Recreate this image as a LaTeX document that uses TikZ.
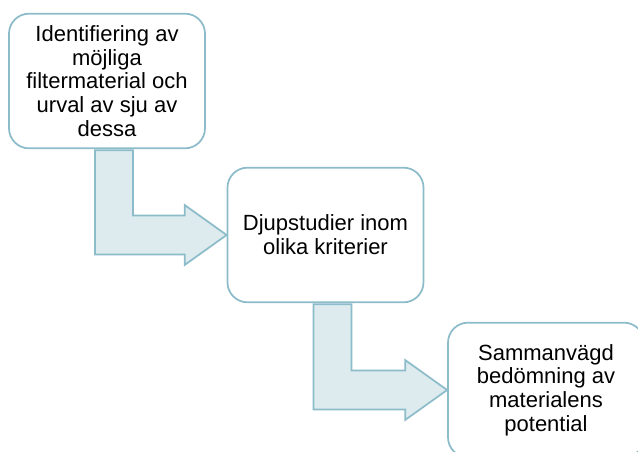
\documentclass[tikz,border=0pt]{standalone}
\usepackage{fontspec}
\setmainfont{Liberation Sans}
\usetikzlibrary{calc}

\definecolor{stepline}{RGB}{140,188,201}
\definecolor{stepfill}{RGB}{221,235,239}

\tikzset{
  stepbox/.style={draw=stepline, line width=1.3pt, fill=white, rounded corners=15pt,
    minimum width=147pt, minimum height=101pt, align=center,
    font=\fontsize{16.5}{17.8}\selectfont},
  flowarrow/.style={draw=stepline, line width=1.3pt, fill=stepfill, line join=miter}
}

% bent block arrow from the bottom of one box to the left side of the next
\newcommand{\bentarrow}[2]{%
  \draw[flowarrow] ($(#1.south)+(-12,1)$) -- ($(#1.south)+(26,1)$)
    |- ($(#2.west)+(-42,-19.5)$) -- ++(0,-10.5) -- (#2.west)
    -- ++(-42,30) -- ++(0,-10.5) -| cycle;}

\begin{document}
\begin{tikzpicture}[x=0.75pt,y=-0.75pt]
\clip (0,0) rectangle (638,452);

\node[stepbox] (ident) at (107,81) {Identifiering av\\möjliga\\filtermaterial och\\urval av sju av\\dessa};
\node[stepbox] (djup) at (325.5,235) {Djupstudier inom\\olika kriterier};
\node[stepbox] (bedom) at (546,390) {Sammanvägd\\bedömning av\\materialens\\potential};

\bentarrow{ident}{djup}
\bentarrow{djup}{bedom}

\end{tikzpicture}
\end{document}
